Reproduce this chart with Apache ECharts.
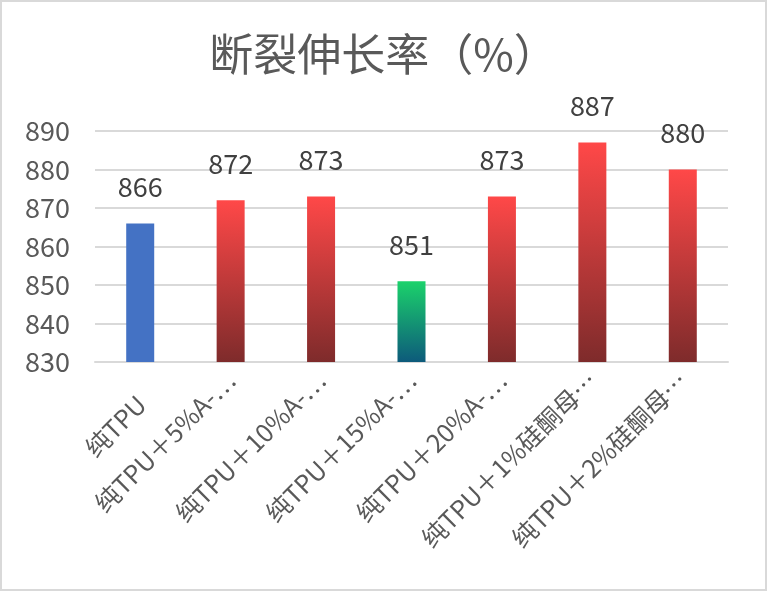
<!DOCTYPE html>
<html><head><meta charset="utf-8">
<script src="https://cdn.jsdelivr.net/npm/echarts@6/dist/echarts.min.js"></script>
<style>html,body{margin:0;padding:0;background:#fff}#c{width:767px;height:591px}</style>
</head><body><div id="c"></div>
<script>
const categories = ['纯TPU','纯TPU＋5%A-…','纯TPU＋10%A-…','纯TPU＋15%A-…','纯TPU＋20%A-…','纯TPU＋1%硅酮母…','纯TPU＋2%硅酮母…'];
const values = [866, 872, 873, 851, 873, 887, 880];
const barStyles = ['blue','red','red','green','red','red','red'];
const yTicks = {min: 830, max: 890, interval: 10};
const title = '断裂伸长率（%）';

function grad(top, bottom){
  return new echarts.graphic.LinearGradient(0,0,0,1,[{offset:0,color:top},{offset:1,color:bottom}]);
}
const palette = {
  blue: '#4472C4',
  red: grad('#FF4848','#7E2B2B'),
  green: grad('#1BD26B','#0D5A7B')
};
const chart = echarts.init(document.getElementById('c'));
chart.setOption({
  backgroundColor:'#fff',
  title:{text:title,left:'center',top:27,textStyle:{fontFamily:'Noto Sans CJK SC',fontSize:44,fontWeight:'normal',color:'#595959'}},
  graphic:[{type:'rect',shape:{x:1,y:1,width:765,height:589},style:{fill:'none',stroke:'#d9d9d9',lineWidth:2},silent:true}],
  grid:{left:95,right:39,top:131,bottom:229},
  xAxis:{type:'category',data:categories,
    axisLine:{lineStyle:{color:'#d9d9d9',width:2}},axisTick:{show:false},
    axisLabel:{rotate:45,interval:0,fontSize:25,color:'#595959',fontFamily:'Noto Sans CJK SC',margin:14,
      formatter:(v,i)=>i===0?'{f|'+v+'}':'{n|'+v+'}',
      rich:{f:{fontSize:25,color:'#595959',fontFamily:'Noto Sans CJK SC',padding:[36,16,0,0]},
            n:{fontSize:25,color:'#595959',fontFamily:'Noto Sans CJK SC'}}}},
  yAxis:{type:'value',min:yTicks.min,max:yTicks.max,interval:yTicks.interval,
    axisLine:{show:false},axisTick:{show:false},
    axisLabel:{fontSize:27,color:'#595959',fontFamily:'Noto Sans CJK SC',margin:25},
    splitLine:{lineStyle:{color:'#d9d9d9',width:2}}},
  series:[{type:'bar',barWidth:28,
    data:values.map((v,i)=>({value:v,itemStyle:{color:palette[barStyles[i]]}})),
    label:{show:true,position:'top',distance:23,fontSize:27,color:'#404040',fontFamily:'Noto Sans CJK SC'}}]
});
</script></body></html>
